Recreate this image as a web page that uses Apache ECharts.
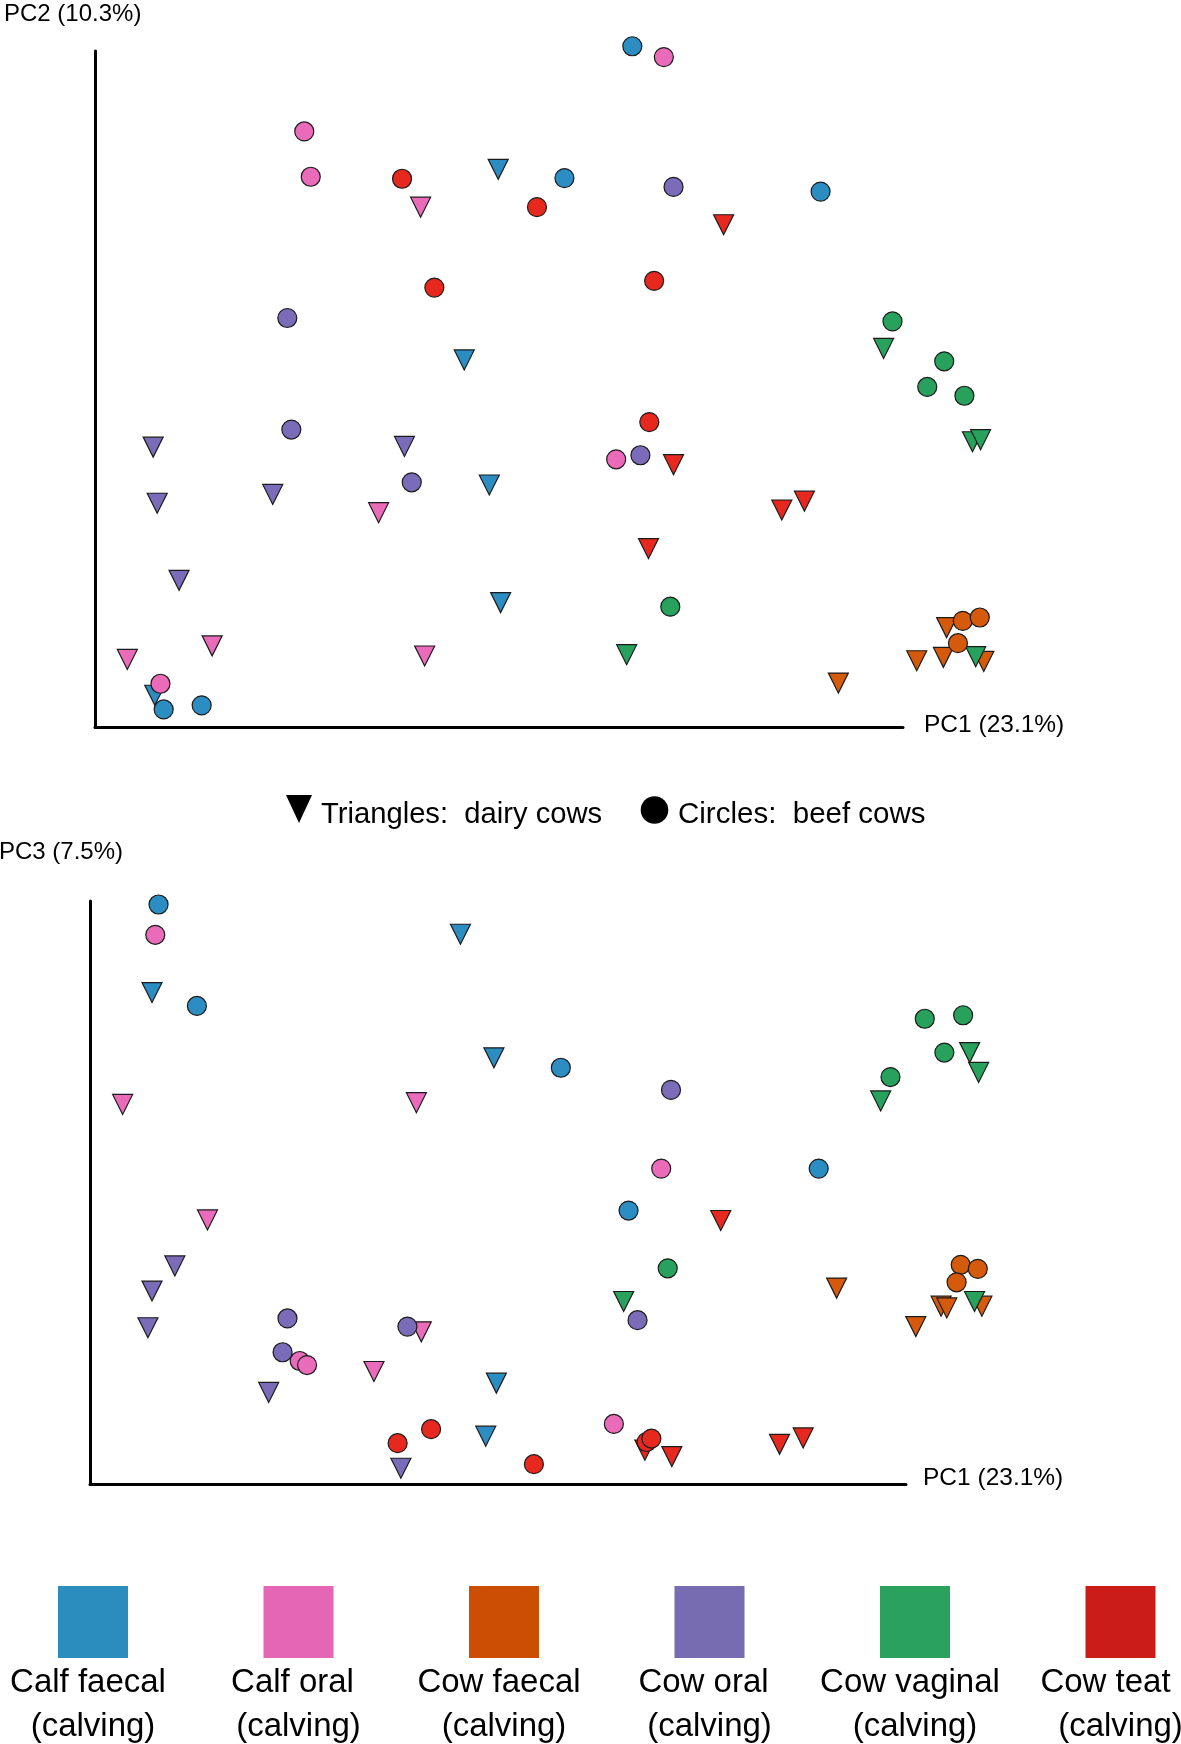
<!DOCTYPE html>
<html><head><meta charset="utf-8">
<script src="https://cdn.jsdelivr.net/npm/echarts@6/dist/echarts.min.js"></script>
<style>html,body{margin:0;padding:0;background:#fff}#c{width:1181px;height:1744px}</style>
</head><body><div id="c"></div><script>
const groups = ['Calf faecal', 'Calf oral', 'Cow faecal', 'Cow oral', 'Cow vaginal', 'Cow teat'];
const groupSub = '(calving)';
const legendColors = ['#2b8cbe', '#e466b5', '#cc4e02', '#776bb2', '#2aa25e', '#cc1c18'];
const markerColors = ['#2b8dc2', '#e96bba', '#d65a0c', '#7a6cb8', '#27a15c', '#e6281f'];
const axisTitles = ['PC1 (23.1%)', 'PC2 (10.3%)', 'PC3 (7.5%)'];
const shapeLegend = ['Triangles:  dairy cows', 'Circles:  beef cows'];

// [PC1, PC2, group index]  (relative scores)
const pc12Beef = [
  [66.5,100.7,0],[58.1,81.2,0],[89.8,79.2,0],[8.5,2.6,0],[13.2,3.2,0],
  [70.4,99.1,1],[25.9,88.1,1],[26.7,81.4,1],[64.5,39.6,1],[8.1,6.4,1],
  [107.4,15.7,2],[109.5,16.2,2],[106.8,12.4,2],
  [71.6,79.9,3],[23.8,60.5,3],[24.3,44.0,3],[39.2,36.2,3],[67.5,40.2,3],
  [98.7,60.0,4],[105.1,54.1,4],[103.0,50.3,4],[107.6,49.0,4],[71.2,17.8,4],
  [38.0,81.1,5],[54.7,76.9,5],[42.0,65.0,5],[69.2,66.0,5],[68.6,45.1,5]
];
const pc12Dairy = [
  [49.9,82.5,0],[45.7,54.3,0],[48.8,35.8,0],[50.2,18.4,0],[7.4,4.7,0],
  [40.3,76.9,1],[35.1,31.7,1],[14.5,12.0,1],[4.0,10.0,1],[40.8,10.5,1],
  [105.4,14.7,2],[101.7,9.8,2],[105.0,10.3,2],[110.0,9.7,2],[92.0,6.5,2],
  [7.2,41.4,3],[38.3,41.5,3],[7.7,33.1,3],[22.0,34.4,3],[10.4,21.7,3],
  [97.6,56.0,4],[108.6,42.2,4],[109.6,42.5,4],[65.8,10.7,4],[109.0,10.4,4],
  [77.8,74.3,5],[71.6,38.8,5],[85.0,32.1,5],[87.8,33.4,5],[68.5,26.4,5]
];
// [PC1, PC3, group index]
const pc13Beef = [
  [8.4,99.4,0],[13.1,82.0,0],[57.7,71.4,0],[89.3,54.1,0],[66.0,46.9,0],
  [8.0,94.2,1],[70.0,54.1,1],[25.7,21.1,1],[26.6,20.4,1],[64.2,10.3,1],
  [106.7,37.6,2],[108.8,36.9,2],[106.2,34.6,2],
  [71.2,67.6,3],[24.2,28.4,3],[23.6,22.6,3],[38.9,27.0,3],[67.1,28.1,3],
  [102.3,79.8,4],[107.0,80.4,4],[104.7,74.0,4],[98.1,69.8,4],[70.8,37.0,4],
  [37.7,7.0,5],[41.8,9.4,5],[68.2,7.2,5],[68.8,7.8,5],[54.4,3.4,5]
];
const pc13Dairy = [
  [7.6,84.3,0],[45.4,94.3,0],[49.5,73.1,0],[49.8,17.3,0],[48.5,8.2,0],
  [4.0,65.1,1],[40.0,65.4,1],[14.4,45.3,1],[40.6,26.1,1],[34.8,19.3,1],
  [91.5,33.6,2],[104.3,30.5,2],[105.0,30.2,2],[109.3,30.5,2],[101.2,27.0,2],
  [10.4,37.4,3],[7.6,33.1,3],[7.1,26.8,3],[21.9,15.7,3],[38.1,2.7,3],
  [107.8,74.0,4],[108.9,70.6,4],[96.9,65.7,4],[65.4,31.3,4],[108.4,31.3,4],
  [77.3,45.2,5],[68.0,5.8,5],[71.3,4.7,5],[84.5,6.8,5],[87.4,7.9,5]
];

const FONT = '"Liberation Sans", Arial, Helvetica, sans-serif';
const chart = echarts.init(document.getElementById('c'), null, {renderer: 'canvas'});

function axisCommon(gi) {
  return {
    gridIndex: gi, type: 'value', min: 0, max: 100,
    axisLine: {show: true, onZero: false, lineStyle: {color: '#000', width: 3}},
    axisTick: {show: false}, axisLabel: {show: false}, splitLine: {show: false}
  };
}

const series = [];
const plots = [[pc12Dairy, pc12Beef], [pc13Dairy, pc13Beef]];
plots.forEach((pair, gi) => {
  pair.forEach((arr, si) => {
    const dairy = si === 0;
    groups.forEach((g, k) => {
      series.push({
        type: 'scatter', name: g + (dairy ? ' dairy' : ' beef'),
        xAxisIndex: gi, yAxisIndex: gi, clip: false,
        symbol: dairy ? 'triangle' : 'circle',
        symbolRotate: dairy ? 180 : 0,
        symbolSize: dairy ? [20, 20] : 19,
        z: dairy ? 2 : 3,
        itemStyle: {color: markerColors[k], borderColor: '#1b1b1b', borderWidth: 1.2, opacity: 1},
        emphasis: {disabled: true},
        data: arr.filter(d => d[2] === k).map(d => [d[0], d[1]])
      });
    });
  });
});

const graphics = [];
function txt(x, y, s, size, align) {
  graphics.push({type: 'text', x: x, y: y, silent: true,
    style: {text: s, fontSize: size, fontFamily: FONT, fill: '#000', align: align || 'left', verticalAlign: 'middle'}});
}
txt(4, 14, axisTitles[1], 24);
txt(924, 725, axisTitles[0], 24.5);
txt(-1, 852, axisTitles[2], 24);
txt(923, 1478, axisTitles[0], 24.5);

// shape legend
graphics.push({type: 'polygon', silent: true, shape: {points: [[286, 795], [312, 795], [299, 823]]}, style: {fill: '#000'}});
txt(321, 815, shapeLegend[0], 29.2);
graphics.push({type: 'circle', silent: true, shape: {cx: 654.5, cy: 810, r: 13.8}, style: {fill: '#000'}});
txt(678, 815, shapeLegend[1], 29.5);

// colour legend
const firstLineShift = [-5, -6, -5, -6, -5, -15];
groups.forEach((g, k) => {
  const cx = 93 + k * 205.5;
  graphics.push({type: 'rect', silent: true, shape: {x: cx - 35, y: 1586, width: 70, height: 72}, style: {fill: legendColors[k]}});
  txt(cx + firstLineShift[k], 1683, g, 33, 'center');
  txt(cx, 1727, groupSub, 33, 'center');
});

chart.setOption({
  backgroundColor: '#fff',
  animation: false,
  grid: [
    {left: 95, top: 51, width: 808, height: 676},
    {left: 90, top: 901, width: 816, height: 583}
  ],
  xAxis: [axisCommon(0), axisCommon(1)],
  yAxis: [axisCommon(0), axisCommon(1)],
  series: series,
  graphic: graphics
});
</script></body></html>
